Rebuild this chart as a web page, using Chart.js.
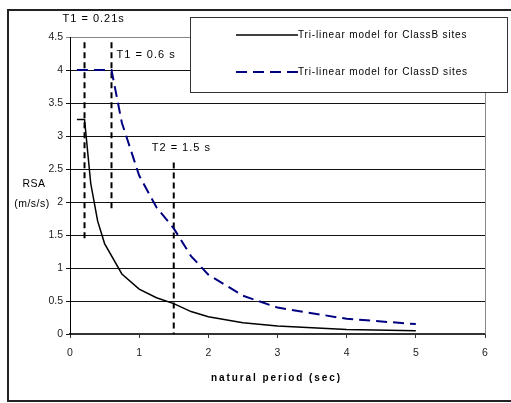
<!DOCTYPE html>
<html>
<head>
<meta charset="utf-8">
<script src="https://cdn.jsdelivr.net/npm/chart.js@4/dist/chart.umd.min.js"></script>
<style>
  html, body { margin: 0; padding: 0; background: #fff; }
  #wrap { width: 511px; height: 403px; }
</style>
</head>
<body>
<div id="wrap"><canvas id="rsa" width="511" height="403"></canvas></div>
<script>
// ── Spectrum data (natural period in s, RSA in m/s/s) ─────────────────────────
const periodB = [0.1, 0.21, 0.3, 0.4, 0.5, 0.75, 1, 1.25, 1.5, 1.75, 2, 2.5, 3, 4, 5];
const rsaB    = [3.25, 3.25, 2.28, 1.71, 1.37, 0.91, 0.68, 0.55, 0.46, 0.34, 0.26, 0.17, 0.12, 0.07, 0.05];

const periodD = [0.1, 0.6, 0.75, 1, 1.25, 1.5, 1.75, 2, 2.5, 3, 4, 5];
const rsaD    = [4, 4, 3.2, 2.4, 1.92, 1.6, 1.18, 0.9, 0.58, 0.4, 0.23, 0.15];

const seriesNames = ["Tri-linear model for ClassB sites", "Tri-linear model for ClassD sites"];

// corner periods, with the RSA span each marker line covers
const markerT      = [0.21, 0.6, 1.5];
const markerTop    = [4.42, 4.42, 2.6];
const markerBottom = [1.45, 1.85, 0];
const markerLabels = ["T1 = 0.21s", "T1 = 0.6 s", "T2 = 1.5 s"];

const xTickLabels = ["0", "1", "2", "3", "4", "5", "6"];
const yTickLabels = ["0", "0.5", "1", "1.5", "2", "2.5", "3", "3.5", "4", "4.5"];

const FONT = "'Liberation Sans', Arial, sans-serif";

const toXY = (xs, ys) => xs.map((x, i) => ({ x, y: ys[i] }));

// ── Datasets ─────────────────────────────────────────────────────────────────
const datasets = [
  { label: seriesNames[0], data: toXY(periodB, rsaB), borderColor: "#000", borderWidth: 1.5 },
  { label: seriesNames[1], data: toXY(periodD, rsaD), borderColor: "#000080", borderWidth: 2, borderDash: [11, 6] },
];
markerT.forEach((t, i) => {
  datasets.push({
    label: markerLabels[i],
    data: [{ x: t, y: markerTop[i] }, { x: t, y: markerBottom[i] }],
    borderColor: "#000", borderWidth: 2, borderDash: [6, 4],
  });
});

// ── Plugin: frame, axis titles, marker labels, legend box ────────────────────
const decorPlugin = {
  id: "decor",
  afterDraw(chart) {
    const { ctx, chartArea: a, scales: { x, y } } = chart;
    ctx.save();

    // right edge of plot area
    ctx.strokeStyle = "#888";
    ctx.lineWidth = 1;
    ctx.beginPath();
    ctx.moveTo(Math.round(a.right) + 0.5, a.top);
    ctx.lineTo(Math.round(a.right) + 0.5, a.bottom);
    ctx.stroke();

    // outer frame
    ctx.strokeStyle = "#222";
    ctx.lineWidth = 2;
    ctx.strokeRect(8, 10, 520, 391);

    // marker labels
    const offs = [[-22, -23], [5, 13], [-22, -14]];
    ctx.fillStyle = "#000";
    ctx.font = "11px " + FONT;
    ctx.letterSpacing = "1px";
    ctx.textBaseline = "middle";
    ctx.textAlign = "left";
    markerT.forEach((t, i) => {
      ctx.fillText(markerLabels[i], x.getPixelForValue(t) + offs[i][0], y.getPixelForValue(markerTop[i]) + offs[i][1]);
    });

    // y title
    ctx.letterSpacing = "0.5px";
    ctx.textAlign = "center";
    ctx.font = "10.5px " + FONT;
    ctx.fillText("RSA", 34, 184);
    ctx.fillText("(m/s/s)", 32, 204);

    // x title
    ctx.font = "bold 10px " + FONT;
    ctx.letterSpacing = "1.9px";
    ctx.fillText("natural period (sec)", (a.left + a.right) / 2 - 1, 378);

    // legend box
    ctx.letterSpacing = "0px";
    ctx.fillStyle = "#fff";
    ctx.fillRect(190, 17, 318, 76);
    ctx.strokeStyle = "#333";
    ctx.lineWidth = 1;
    ctx.strokeRect(190.5, 17.5, 317, 75);

    ctx.textAlign = "left";
    ctx.font = "10px " + FONT;
    ctx.letterSpacing = "0.85px";
    [35, 72].forEach((ly, i) => {
      const ds = chart.data.datasets[i];
      ctx.strokeStyle = ds.borderColor;
      ctx.lineWidth = ds.borderWidth;
      ctx.setLineDash(ds.borderDash || []);
      ctx.beginPath();
      ctx.moveTo(236, ly);
      ctx.lineTo(298, ly);
      ctx.stroke();
      ctx.setLineDash([]);
      ctx.fillStyle = "#000";
      ctx.fillText(ds.label, 298, ly);
    });
    ctx.restore();
  },
};

new Chart(document.getElementById("rsa"), {
  type: "line",
  data: { datasets },
  options: {
    responsive: false,
    animation: false,
    layout: { padding: { left: 0, top: 37, right: 26, bottom: 0 } },
    elements: { point: { radius: 0 }, line: { tension: 0, fill: false } },
    plugins: { legend: { display: false }, tooltip: { enabled: false } },
    scales: {
      x: {
        type: "linear", min: 0, max: 6,
        afterFit: (s) => { s.height = 69; },
        border: { color: "#333", width: 2 },
        grid: { drawOnChartArea: false, drawTicks: true, tickLength: 4, color: "#333" },
        ticks: {
          stepSize: 1, padding: 9, color: "#222",
          font: { family: FONT, size: 10.5 },
          callback: (v, i) => xTickLabels[i],
        },
      },
      y: {
        min: 0, max: 4.5,
        afterFit: (s) => { s.width = 70; },
        border: { color: "#000", width: 1 },
        grid: {
          tickLength: 4,
          color: (c) => (c.tick && c.tick.value === 4.5 ? "#888" : "#111"),
        },
        ticks: {
          stepSize: 0.5, padding: 3, color: "#222",
          font: { family: FONT, size: 10.5 },
          callback: (v, i) => yTickLabels[i],
        },
      },
    },
  },
  plugins: [decorPlugin],
});
</script>
</body>
</html>
